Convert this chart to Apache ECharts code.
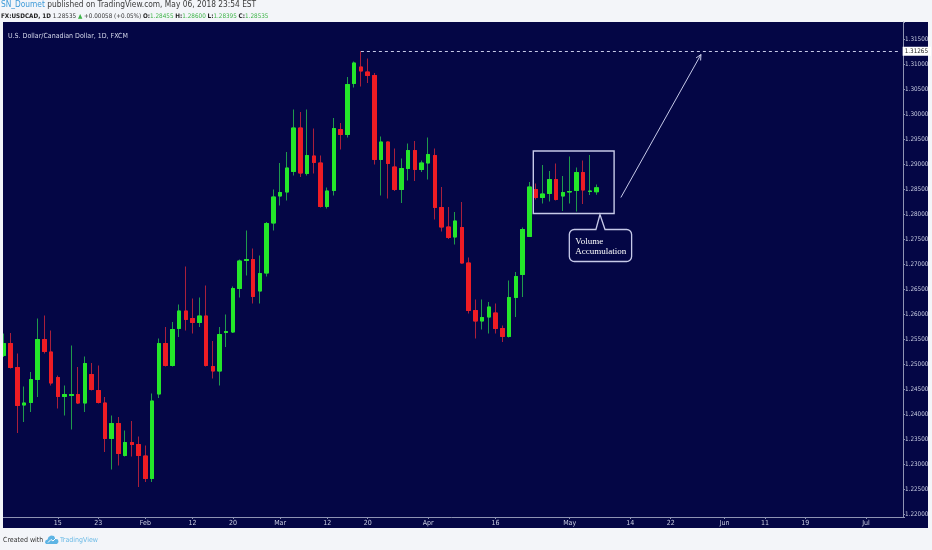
<!DOCTYPE html>
<html>
<head>
<meta charset="utf-8">
<title>FX:USDCAD 1D</title>
<script src="https://cdn.jsdelivr.net/npm/echarts/dist/echarts.min.js"></script>
<style>
  html, body { margin: 0; padding: 0; background: #f3f5f9; }
  #chart { width: 932px; height: 550px; }
</style>
</head>
<body>
<div id="chart"></div>
<script>
// daily candles, 2018: date, open, high, low, close
const candles = [
    ['01-03', 1.2518, 1.2562, 1.2515, 1.2542],
    ['01-04', 1.2542, 1.2563, 1.2492, 1.2494],
    ['01-05', 1.2494, 1.2522, 1.2363, 1.2418],
    ['01-08', 1.2419, 1.2456, 1.2385, 1.2423],
    ['01-09', 1.2424, 1.2485, 1.2405, 1.2470],
    ['01-10', 1.2470, 1.2592, 1.2435, 1.2550],
    ['01-11', 1.2550, 1.2598, 1.2522, 1.2526],
    ['01-12', 1.2525, 1.2568, 1.2458, 1.2463],
    ['01-15', 1.2474, 1.2478, 1.2412, 1.2436],
    ['01-16', 1.2436, 1.2458, 1.2398, 1.2440],
    ['01-17', 1.2438, 1.2538, 1.2370, 1.2440],
    ['01-18', 1.2440, 1.2495, 1.2421, 1.2423],
    ['01-19', 1.2423, 1.2516, 1.2405, 1.2502],
    ['01-22', 1.2480, 1.2503, 1.2448, 1.2450],
    ['01-23', 1.2448, 1.2498, 1.2422, 1.2424],
    ['01-24', 1.2423, 1.2435, 1.2325, 1.2352],
    ['01-25', 1.2352, 1.2398, 1.2290, 1.2382],
    ['01-26', 1.2382, 1.2395, 1.2298, 1.2322],
    ['01-29', 1.2318, 1.2368, 1.2316, 1.2344],
    ['01-30', 1.2344, 1.2387, 1.2316, 1.2340],
    ['01-31', 1.2340, 1.2356, 1.2255, 1.2318],
    ['02-01', 1.2317, 1.2338, 1.2265, 1.2272],
    ['02-02', 1.2272, 1.2442, 1.2265, 1.2427],
    ['02-05', 1.2441, 1.2552, 1.2433, 1.2542],
    ['02-06', 1.2542, 1.2575, 1.2496, 1.2498],
    ['02-07', 1.2498, 1.2585, 1.2496, 1.2570],
    ['02-08', 1.2572, 1.2620, 1.2555, 1.2607],
    ['02-09', 1.2607, 1.2696, 1.2568, 1.2590],
    ['02-12', 1.2592, 1.2632, 1.2562, 1.2584],
    ['02-13', 1.2584, 1.2634, 1.2575, 1.2597],
    ['02-14', 1.2597, 1.2658, 1.2496, 1.2498],
    ['02-15', 1.2496, 1.2547, 1.2472, 1.2487],
    ['02-16', 1.2487, 1.2575, 1.2458, 1.2560],
    ['02-19', 1.2564, 1.2600, 1.2535, 1.2566],
    ['02-20', 1.2565, 1.2656, 1.2563, 1.2652],
    ['02-21', 1.2652, 1.2710, 1.2634, 1.2707],
    ['02-22', 1.2708, 1.2768, 1.2678, 1.2710],
    ['02-23', 1.2710, 1.2732, 1.2622, 1.2636],
    ['02-26', 1.2647, 1.2718, 1.2622, 1.2682],
    ['02-27', 1.2683, 1.2785, 1.2676, 1.2782],
    ['02-28', 1.2783, 1.2850, 1.2768, 1.2835],
    ['03-01', 1.2837, 1.2903, 1.2818, 1.2844],
    ['03-02', 1.2845, 1.2925, 1.2828, 1.2893],
    ['03-05', 1.2886, 1.3010, 1.2878, 1.2973],
    ['03-06', 1.2973, 1.3005, 1.2875, 1.2883],
    ['03-07', 1.2882, 1.3010, 1.2878, 1.2918],
    ['03-08', 1.2917, 1.2972, 1.2882, 1.2904],
    ['03-09', 1.2903, 1.2918, 1.2814, 1.2816],
    ['03-12', 1.2816, 1.2854, 1.2812, 1.2847],
    ['03-13', 1.2848, 1.2993, 1.2838, 1.2972],
    ['03-14', 1.2970, 1.2983, 1.2930, 1.2960],
    ['03-15', 1.2960, 1.3075, 1.2954, 1.3060],
    ['03-16', 1.3062, 1.3106, 1.3054, 1.3103],
    ['03-19', 1.3095, 1.31265, 1.3056, 1.3087],
    ['03-20', 1.3085, 1.3112, 1.3063, 1.3078],
    ['03-21', 1.3078, 1.3083, 1.2900, 1.2910],
    ['03-22', 1.2910, 1.2956, 1.2838, 1.2945],
    ['03-23', 1.2945, 1.2946, 1.2832, 1.2902],
    ['03-26', 1.2895, 1.2932, 1.2847, 1.2850],
    ['03-27', 1.2850, 1.2912, 1.2823, 1.2892],
    ['03-28', 1.2892, 1.2942, 1.2868, 1.2928],
    ['03-29', 1.2928, 1.2947, 1.2867, 1.2890],
    ['03-30', 1.2890, 1.2908, 1.2885, 1.2903],
    ['04-02', 1.2903, 1.2954, 1.2870, 1.2920],
    ['04-03', 1.2918, 1.2932, 1.2790, 1.2814],
    ['04-04', 1.2814, 1.2855, 1.2766, 1.2775],
    ['04-05', 1.2775, 1.2815, 1.2751, 1.2754],
    ['04-06', 1.2755, 1.2805, 1.2740, 1.2787],
    ['04-09', 1.2774, 1.2825, 1.2702, 1.2703],
    ['04-10', 1.2703, 1.2714, 1.2602, 1.2608],
    ['04-11', 1.2608, 1.2630, 1.2552, 1.2587],
    ['04-12', 1.2587, 1.2630, 1.2570, 1.2594],
    ['04-13', 1.2595, 1.2625, 1.2562, 1.2615],
    ['04-16', 1.2603, 1.2622, 1.2562, 1.2572],
    ['04-17', 1.2572, 1.2578, 1.2545, 1.2556],
    ['04-18', 1.2556, 1.2668, 1.2554, 1.2634],
    ['04-19', 1.2634, 1.2685, 1.2595, 1.2676],
    ['04-20', 1.2680, 1.2774, 1.2635, 1.2770],
    ['04-23', 1.2756, 1.2865, 1.2755, 1.2855],
    ['04-24', 1.2850, 1.2862, 1.2830, 1.2834],
    ['04-25', 1.2834, 1.2899, 1.2822, 1.2841],
    ['04-26', 1.2842, 1.2887, 1.2826, 1.2870],
    ['04-27', 1.2870, 1.2902, 1.2828, 1.2830],
    ['04-30', 1.2837, 1.2877, 1.2807, 1.2844],
    ['05-01', 1.2845, 1.2916, 1.2822, 1.2846],
    ['05-02', 1.2848, 1.2894, 1.2806, 1.2884],
    ['05-03', 1.2884, 1.2908, 1.2821, 1.2849],
    ['05-04', 1.2846, 1.2919, 1.2839, 1.2847],
    ['05-07', 1.28455, 1.28600, 1.28395, 1.28535]
];

// empty trading days on the right side of the chart
const futureSlots = 45;

// x-axis labels: category -> text
const tickLabels = [
    ['01-15', '15'], ['01-23', '23'], ['02-01', 'Feb'], ['02-12', '12'],
    ['02-20', '20'], ['03-01', 'Mar'], ['03-12', '12'], ['03-20', '20'],
    ['04-02', 'Apr'], ['04-16', '16'], ['05-01', 'May'], ['05-14', '14'],
    ['05-22', '22'], ['06-01', 'Jun'], ['06-11', '11'], ['06-19', '19'],
    ['07-02', 'Jul']
];

const lastPrice = 1.28535;
const swingHigh = 1.31265;
const swingHighDate = '03-19';

const headerUser = 'SN_Doumet';
const headerPublished = ' published on TradingView.com, May 06, 2018 23:54 EST';
const symbolTitle = 'U.S. Dollar/Canadian Dollar, 1D, FXCM';

// colours
const NAVY = '#040645';
const UP = '#24e62a';
const DOWN = '#ee1c24';
const UP_WICK = '#1f9a4c';
const DOWN_WICK = '#a91f3c';
const AXIS = '#8e93b3';
const AXIS_TEXT = '#c9cde2';
const DRAW = '#c6c9e8';
const NARROW = "'DejaVu Sans Condensed', 'Liberation Sans', sans-serif";

/**
 * pad the category list with the next weekdays
 */
function nextWeekdays(lastDate, count) {
    const parts = lastDate.split('-');
    const d = new Date(Date.UTC(2018, parseInt(parts[0], 10) - 1, parseInt(parts[1], 10)));
    const out = [];
    while (out.length < count) {
        d.setUTCDate(d.getUTCDate() + 1);
        const w = d.getUTCDay();
        if (w === 0 || w === 6) {
            continue;
        }
        const mm = String(d.getUTCMonth() + 1).padStart(2, '0');
        const dd = String(d.getUTCDate()).padStart(2, '0');
        out.push(mm + '-' + dd);
    }
    return out;
}

const candleDates = candles.map(function (c) { return c[0]; });
const categories = candleDates.concat(nextWeekdays(candleDates[candleDates.length - 1], futureSlots));

// echarts candlestick order: open, close, low, high
const ohlc = candles.map(function (c) { return [c[1], c[4], c[3], c[2]]; });
// bodies only, drawn over the wicks in a brighter colour
const bodies = candles.map(function (c) {
    return [c[1], c[4], Math.min(c[1], c[4]), Math.max(c[1], c[4])];
});

const tickText = {};
tickLabels.forEach(function (t) { tickText[t[0]] = t[1]; });
function isTick(index, value) {
    return tickText.hasOwnProperty(value);
}

const lastCat = categories[categories.length - 1];
const lastDate = candleDates[candleDates.length - 1];

const chart = echarts.init(document.getElementById('chart'), null, {renderer: 'canvas'});

chart.setOption({
    animation: false,
    backgroundColor: 'transparent',
    grid: {left: 0.63, right: 29, top: 22, bottom: 33, outerBoundsMode: 'none'},
    xAxis: {
        type: 'category',
        data: categories,
        boundaryGap: true,
        axisLine: {lineStyle: {color: AXIS, width: 1}},
        axisTick: {show: true, alignWithLabel: true, interval: isTick, length: 2, lineStyle: {color: AXIS}},
        axisLabel: {
            interval: isTick,
            formatter: function (v) { return tickText[v] || ''; },
            color: AXIS_TEXT,
            fontSize: 7,
            fontFamily: NARROW,
            margin: 3
        },
        splitLine: {show: false}
    },
    yAxis: {
        type: 'value',
        position: 'right',
        min: 1.2195,
        max: 1.3185,
        splitNumber: 20,
        axisLine: {show: true, lineStyle: {color: AXIS, width: 1}},
        axisTick: {show: true, length: 2, lineStyle: {color: AXIS}},
        axisLabel: {
            color: AXIS_TEXT,
            fontSize: 6.3,
            fontFamily: NARROW,
            margin: 2,
            formatter: function (v) {
                const k = v / 0.005;
                if (Math.abs(k - Math.round(k)) > 1e-6) {
                    return '';
                }
                return v.toFixed(5);
            }
        },
        splitLine: {show: false}
    },
    series: [
        {
            // wicks
            type: 'candlestick',
            data: ohlc,
            barWidth: 4,
            itemStyle: {color: UP_WICK, color0: DOWN_WICK, borderColor: UP_WICK, borderColor0: DOWN_WICK, borderWidth: 1}
        },
        {
            // bodies
            type: 'candlestick',
            data: bodies,
            barWidth: 4,
            itemStyle: {color: UP, color0: DOWN, borderColor: UP, borderColor0: DOWN, borderWidth: 1},
            markLine: {
                silent: true,
                symbol: 'none',
                animation: false,
                data: [
                    [
                        {
                            coord: [swingHighDate, swingHigh],
                            lineStyle: {color: DRAW, width: 1, type: [3, 3]},
                            label: {
                                show: true, position: 'end', distance: 3,
                                formatter: swingHigh.toFixed(5),
                                color: '#222', backgroundColor: '#ffffff',
                                padding: [2, 3, 1, 2], fontSize: 6.3, fontFamily: NARROW
                            }
                        },
                        {coord: [lastCat, swingHigh]}
                    ],
                    [
                        {
                            coord: [lastDate, lastPrice],
                            lineStyle: {opacity: 0},
                            label: {
                                show: true, position: 'end', distance: 3,
                                formatter: lastPrice.toFixed(5),
                                color: '#ffffff', backgroundColor: '#e0850f',
                                padding: [2, 3, 1, 2], fontSize: 6.3, fontFamily: NARROW
                            }
                        },
                        {coord: [lastCat, lastPrice]}
                    ]
                ]
            }
        }
    ]
});

// ---- drawings (box, callout, arrow) in data coordinates ----
const boxArea = {from: 78.6, to: 90.6, top: 1.2927, bottom: 1.2802};
const callout = {from: 83.95, to: 93.2, top: 1.2770, bottom: 1.2706, tip: 88.5, notchL: 87.9, notchR: 89.25};
const arrowLine = {from: [91.6, 1.2834], to: [103.5, 1.3120]};

function px(i, p) {
    const i0 = Math.floor(i);
    const f = i - i0;
    const a = chart.convertToPixel({gridIndex: 0}, [i0, p]);
    const b = chart.convertToPixel({gridIndex: 0}, [i0 + 1, p]);
    return [a[0] + f * (b[0] - a[0]), a[1]];
}

// quarter arc points for a rounded corner
function corner(cx, cy, r, a0, a1) {
    const pts = [];
    for (let k = 0; k <= 4; k++) {
        const a = a0 + (a1 - a0) * k / 4;
        pts.push([cx + r * Math.cos(a), cy + r * Math.sin(a)]);
    }
    return pts;
}

function buildGraphics() {
    const g = [];

    // chart panel
    g.push({type: 'rect', z: -1, shape: {x: 3, y: 22, width: 925, height: 506}, style: {fill: NAVY}});
    // left margin covers the clipped first candle
    g.push({type: 'rect', z: 50, shape: {x: 0, y: 22, width: 3, height: 506}, style: {fill: '#f3f5f9'}});

    // header
    g.push({
        type: 'text', z: 5, x: 1, y: 5,
        style: {
            text: '{u|' + headerUser + '}{t|' + headerPublished + '}',
            verticalAlign: 'middle', fontSize: 8.3, fontFamily: NARROW,
            rich: {u: {fill: '#3c9ad8', fontSize: 8.3, fontFamily: NARROW}, t: {fill: '#3a3a3a', fontSize: 8.3, fontFamily: NARROW}}
        }
    });
    const c = candles[candles.length - 1];
    g.push({
        type: 'text', z: 5, x: 1, y: 16,
        style: {
            text: '{b|FX:USDCAD, 1D} {t|' + c[4].toFixed(5) + '} {g|\u25B2} {t|+0.00058 (+0.05%)} ' +
                '{b|O:}{g|' + c[1].toFixed(5) + '} {b|H:}{g|' + c[2].toFixed(5) + '} ' +
                '{b|L:}{g|' + c[3].toFixed(5) + '} {b|C:}{g|' + c[4].toFixed(5) + '}',
            verticalAlign: 'middle', fontSize: 6.3, fontFamily: NARROW,
            rich: {
                b: {fill: '#1e1e1e', fontWeight: 'bold', fontSize: 6.3, fontFamily: NARROW},
                t: {fill: '#333333', fontSize: 6.3, fontFamily: NARROW},
                g: {fill: '#3cb446', fontSize: 6.3, fontFamily: NARROW}
            }
        }
    });
    // symbol title inside the panel
    g.push({
        type: 'text', z: 5, x: 8, y: 36,
        style: {text: symbolTitle, fill: '#d6d9ec', fontSize: 7, fontFamily: NARROW, verticalAlign: 'middle'}
    });

    // footer
    g.push({
        type: 'text', z: 5, x: 3, y: 540,
        style: {text: 'Created with', fill: '#333333', fontSize: 7, fontFamily: NARROW, verticalAlign: 'middle'}
    });
    g.push({
        type: 'polygon', z: 5,
        shape: {points: [[46, 544], [57, 544], [58.5, 542], [58, 539.5], [55.5, 539], [54, 536], [51, 535.5],
            [48.5, 537], [47.5, 539.5], [45.5, 540.5], [45, 542.5]]},
        style: {fill: '#5db4e4'}
    });
    g.push({
        type: 'polyline', z: 6,
        shape: {points: [[48, 542.5], [51, 539.5], [53, 541], [56, 538]]},
        style: {stroke: '#ffffff', lineWidth: 1, fill: null}
    });
    g.push({
        type: 'text', z: 5, x: 60, y: 540,
        style: {text: 'TradingView', fill: '#6cbbe6', fontSize: 7, fontFamily: NARROW, verticalAlign: 'middle'}
    });

    // consolidation box
    const bl = px(boxArea.from, boxArea.top);
    const br = px(boxArea.to, boxArea.bottom);
    g.push({
        type: 'rect', z: 10,
        shape: {x: bl[0], y: bl[1], width: br[0] - bl[0], height: br[1] - bl[1]},
        style: {fill: null, stroke: DRAW, lineWidth: 1.4}
    });

    // callout bubble with pointer to the box
    const tl = px(callout.from, callout.top);
    const rb = px(callout.to, callout.bottom);
    const tip = px(callout.tip, boxArea.bottom);
    const nl = px(callout.notchL, callout.top);
    const nr = px(callout.notchR, callout.top);
    const L = tl[0], T = tl[1], R = rb[0], B = rb[1], r = 5;
    const H = Math.PI / 2;
    let pts = [];
    pts = pts.concat(corner(L + r, T + r, r, 2 * H, 3 * H));
    pts.push([nl[0], T], [tip[0], tip[1] + 1], [nr[0], T]);
    pts = pts.concat(corner(R - r, T + r, r, 3 * H, 4 * H));
    pts = pts.concat(corner(R - r, B - r, r, 0, H));
    pts = pts.concat(corner(L + r, B - r, r, H, 2 * H));
    g.push({type: 'polygon', z: 10, shape: {points: pts}, style: {fill: NAVY, stroke: DRAW, lineWidth: 1.3}});
    g.push({
        type: 'text', z: 11, x: L + 6, y: T + 7,
        style: {
            text: 'Volume\nAccumulation', fill: '#ffffff', fontSize: 9, lineHeight: 10,
            fontFamily: "'Liberation Serif', 'DejaVu Serif', serif", verticalAlign: 'top'
        }
    });

    // projection arrow
    const a0 = px(arrowLine.from[0], arrowLine.from[1]);
    const a1 = px(arrowLine.to[0], arrowLine.to[1]);
    g.push({
        type: 'line', z: 10,
        shape: {x1: a0[0], y1: a0[1], x2: a1[0], y2: a1[1]},
        style: {stroke: DRAW, lineWidth: 1}
    });
    const ang = Math.atan2(a1[1] - a0[1], a1[0] - a0[0]);
    const hl = 6, hw = 0.45;
    g.push({
        type: 'polyline', z: 10,
        shape: {points: [
            [a1[0] - hl * Math.cos(ang - hw), a1[1] - hl * Math.sin(ang - hw)],
            [a1[0], a1[1]],
            [a1[0] - hl * Math.cos(ang + hw), a1[1] - hl * Math.sin(ang + hw)]
        ]},
        style: {stroke: DRAW, lineWidth: 1, fill: null}
    });

    return g;
}

chart.setOption({graphic: buildGraphics()});
</script>
</body>
</html>
